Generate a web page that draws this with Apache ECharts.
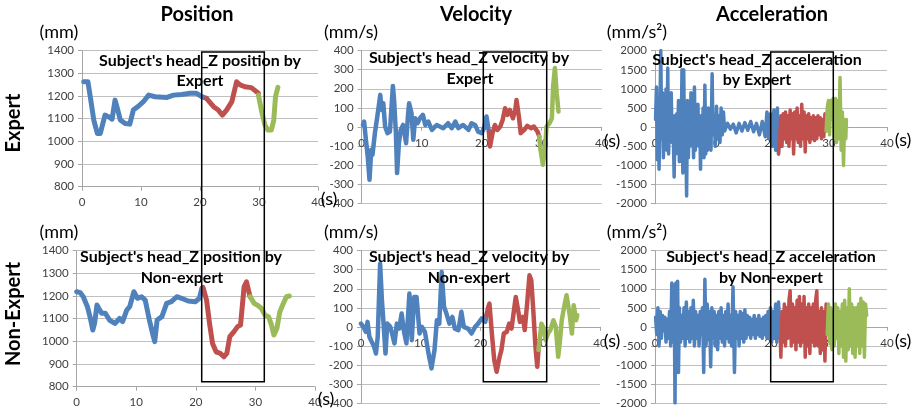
<!DOCTYPE html>
<html>
<head>
<meta charset="utf-8">
<script src="https://cdn.jsdelivr.net/npm/echarts@6/dist/echarts.min.js"></script>
<style>
  html, body { margin: 0; padding: 0; background: #fff; }
  #chart { width: 918px; height: 409px; }
</style>
</head>
<body>
<div id="chart"></div>
<script>
// tick settings
var xTicks = { min: 0, max: 40, interval: 10 };
var posTicks = { min: 800, max: 1400, interval: 100 };
var velTicks = { min: -400, max: 400, interval: 100 };
var accTicks = { min: -2000, max: 2000, interval: 500 };

// position by expert  [t(s), mm]
var posExpBlue = [[0.3,1263],[1.0,1263],[1.4,1197],[2.0,1094],[2.6,1035],[3.1,1035],[3.9,1116],[4.5,1109],[5.1,1098],[5.6,1182],[6.0,1145],[6.5,1094],[7.3,1079],[8.1,1076],[8.7,1138],[9.6,1156],[10.4,1175],[11.3,1204],[12.4,1197],[14.4,1194],[15.5,1204],[16.9,1207],[18.3,1212],[19.4,1212],[20.3,1197],[21.1,1190]];
var posExpRed = [[21.1,1190],[22.3,1153],[23.1,1138],[23.8,1116],[24.5,1138],[25.4,1175],[26.2,1263],[26.8,1249],[27.6,1241],[28.7,1237],[29.9,1212]];
var posExpGreen = [[29.9,1204],[30.4,1138],[31.0,1072],[31.5,1050],[32.1,1050],[32.5,1094],[32.8,1197],[33.2,1238]];

// position by non-expert
var posNonBlue = [[0,1219],[0.6,1215],[1.1,1197],[1.8,1153],[2.3,1101],[2.7,1050],[3.0,1079],[3.4,1160],[3.7,1146],[4.2,1124],[4.8,1124],[5.5,1094],[6.4,1079],[7.2,1101],[7.7,1087],[8.4,1138],[8.9,1153],[9.6,1219],[10.2,1190],[10.9,1197],[11.5,1182],[12.2,1094],[12.8,1028],[13.1,999],[13.5,1094],[14.3,1109],[15.1,1168],[15.9,1175],[16.8,1197],[17.6,1190],[18.7,1178],[19.9,1175],[20.6,1190],[21.0,1234]];
var posNonRed = [[21.2,1238],[21.8,1182],[22.3,1079],[22.8,991],[23.4,954],[24.1,947],[24.7,932],[25.2,947],[25.7,1021],[26.4,1043],[27.0,1065],[27.5,1072],[28.1,1241],[28.5,1263],[29.1,1197]];
var posNonGreen = [[29.1,1197],[29.8,1168],[30.3,1160],[31.0,1146],[31.6,1116],[32.2,1109],[32.7,1072],[33.1,1028],[33.6,1057],[34.1,1131],[34.7,1168],[35.2,1197],[35.7,1200]];

// velocity by expert  [t(s), mm/s]
var velExpBlue = [[0.2,10],[0.4,28],[0.7,-68],[1.0,-155],[1.3,-278],[1.6,-120],[1.8,-147],[2.2,-33],[2.6,54],[3.1,168],[3.3,89],[3.6,124],[3.9,2],[4.3,-33],[4.7,-25],[5.2,215],[5.4,141],[5.7,-33],[5.9,-243],[6.2,-86],[6.5,-16],[6.9,10],[7.4,-86],[7.7,54],[7.9,124],[8.3,72],[8.6,-68],[8.9,45],[9.3,19],[9.7,45],[10.2,63],[10.6,10],[11.1,28],[11.7,-16],[12.5,10],[13.6,-7],[14.4,19],[15.0,-7],[15.6,28],[16.1,-7],[16.9,10],[17.8,-16],[18.3,19],[18.9,10],[19.4,-25],[20.0,-33],[20.4,-7],[20.8,54],[21.2,-25]];
var velExpRed = [[21.2,-25],[21.4,-103],[21.8,-33],[22.2,10],[22.6,-16],[23.1,2],[23.5,37],[23.9,98],[24.3,63],[24.7,89],[25.2,45],[25.6,89],[25.8,141],[26.2,54],[26.5,-33],[27.1,-16],[27.6,5],[28.2,-7],[28.7,2],[29.3,-25],[29.6,-51]];
var velExpGreen = [[29.6,-51],[29.8,-120],[30.2,-199],[30.6,-103],[30.8,2],[31.3,19],[31.7,45],[31.9,212],[32.2,309],[32.5,177],[32.8,80]];

// velocity by non-expert
var velNonBlue = [[0,17],[0.4,0],[0.8,-26],[1.1,26],[1.4,-52],[1.8,-79],[2.2,-105],[2.5,-140],[2.8,-52],[3.2,332],[3.5,140],[3.7,52],[4.1,-140],[4.4,17],[4.9,0],[5.2,-35],[5.6,-87],[6.0,17],[6.4,-9],[6.8,70],[7.2,-26],[7.6,-87],[8.1,175],[8.5,-70],[8.9,157],[9.3,157],[9.8,-35],[10.2,0],[10.7,-26],[11.3,-140],[11.8,-218],[12.3,-122],[12.7,35],[13.1,17],[13.5,288],[13.9,105],[14.3,70],[14.8,17],[15.3,52],[15.7,-9],[16.3,-17],[16.8,79],[17.2,0],[17.9,-9],[18.5,-35],[19.1,0],[19.6,17],[20.2,44],[20.8,26],[21.0,61]];
var velNonRed = [[21.0,61],[21.3,105],[21.5,122],[21.9,-35],[22.3,-175],[22.7,-236],[23.2,-157],[23.5,-122],[23.9,-35],[24.4,-26],[24.8,17],[25.2,-9],[25.6,87],[25.9,157],[26.3,87],[26.6,26],[27.1,52],[27.4,-17],[27.8,122],[28.2,271],[28.5,245],[28.8,105],[29.2,-105],[29.5,-210],[29.7,-122]];
var velNonGreen = [[29.7,-122],[29.9,-70],[30.2,17],[30.6,-9],[30.9,-70],[31.3,-35],[31.7,-17],[32.2,35],[32.6,0],[33.0,-157],[33.3,-70],[33.6,35],[34.0,105],[34.4,166],[34.9,70],[35.3,-35],[35.6,113],[36.0,35],[36.2,61]];

// acceleration by expert  [t(s), mm/s^2]
var accExpBlue = [[0.1,200],[0.25,1050],[0.4,-850],[0.55,400],[0.7,-1100],[0.85,500],[1.0,2000],[1.15,-300],[1.3,900],[1.45,-800],[1.6,300],[1.75,-500],[1.9,1000],[2.05,-600],[2.2,1550],[2.35,-700],[2.5,600],[2.65,-300],[2.8,900],[2.95,-400],[3.1,300],[3.3,-1300],[3.45,300],[3.6,-700],[3.75,350],[3.9,-450],[4.05,700],[4.2,-900],[4.35,300],[4.5,-600],[4.65,1500],[4.8,-1200],[4.95,1500],[5.1,-400],[5.25,600],[5.45,-1800],[5.6,700],[5.75,-800],[5.9,300],[6.05,-500],[6.2,900],[6.35,-400],[6.5,400],[6.65,-800],[6.8,1050],[6.95,-600],[7.1,300],[7.25,-300],[7.4,600],[7.55,-500],[7.7,300],[7.85,-1100],[8.0,300],[8.15,-300],[8.3,500],[8.45,-800],[8.6,1100],[8.75,-700],[8.9,400],[9.05,-600],[9.2,500],[9.35,-400],[9.5,300],[9.65,-600],[9.85,1400],[10.0,-200],[10.2,300],[10.4,-500],[10.6,550],[10.8,-300],[11.0,300],[11.2,-400],[11.4,500],[11.6,-200],[11.8,400],[12.0,-100],[12.5,100],[13.0,-50],[13.5,80],[14.0,-150],[14.5,100],[15.0,-100],[15.5,120],[16.0,-80],[16.5,150],[17.0,-120],[17.5,100],[18.0,-200],[18.5,150],[19.0,-250],[19.3,400],[19.6,-300],[19.9,350],[20.2,-500],[20.5,450],[20.8,-600],[21.1,500],[21.3,-700]];
var accExpRed = [[21.3,-700],[21.5,-300],[21.7,300],[21.9,-500],[22.1,350],[22.3,-300],[22.5,400],[22.7,-400],[22.9,300],[23.1,-500],[23.3,450],[23.5,-300],[23.7,350],[23.9,-700],[24.1,400],[24.3,-300],[24.5,500],[24.7,-400],[24.9,300],[25.1,-500],[25.3,600],[25.5,-300],[25.7,400],[25.9,-650],[26.1,300],[26.3,-300],[26.5,350],[26.7,-400],[26.9,250],[27.1,-300],[27.3,300],[27.5,-350],[27.7,250],[27.9,-300],[28.1,300],[28.3,-200],[28.5,250],[28.7,-300],[28.9,200],[29.1,-250],[29.3,350],[29.5,-100]];
var accExpGreen = [[29.5,-100],[29.7,500],[29.9,700],[30.1,-200],[30.3,700],[30.5,200],[30.7,750],[30.9,-300],[31.1,750],[31.3,-400],[31.5,700],[31.7,-300],[31.9,1300],[32.1,-600],[32.3,400],[32.5,-1000],[32.7,200],[32.9,-300],[33.0,200]];

// acceleration by non-expert
var accNonBlue = [[0.1,250],[0.3,-200],[0.5,500],[0.7,-500],[0.9,400],[1.1,-300],[1.3,300],[1.5,-100],[1.7,250],[1.9,-400],[2.1,200],[2.3,-300],[2.5,400],[2.7,-500],[2.9,1150],[3.1,-400],[3.3,1100],[3.45,-2000],[3.6,1150],[3.75,-1200],[3.9,1200],[4.05,-1200],[4.2,500],[4.4,-400],[4.6,300],[4.8,-300],[5.0,500],[5.2,-500],[5.4,650],[5.6,-300],[5.8,400],[6.0,-400],[6.2,500],[6.4,-300],[6.6,700],[6.8,-500],[7.0,400],[7.2,-300],[7.4,300],[7.6,-500],[7.8,400],[8.0,-200],[8.2,500],[8.4,-1200],[8.6,1250],[8.8,-500],[9.0,600],[9.2,-300],[9.4,400],[9.6,-1050],[9.8,500],[10.0,-300],[10.2,400],[10.4,-500],[10.6,300],[10.8,-600],[11.0,400],[11.2,-300],[11.4,500],[11.6,-400],[11.8,300],[12.0,-500],[12.2,400],[12.4,-300],[12.6,600],[12.8,-400],[13.0,300],[13.2,-500],[13.45,1050],[13.7,-1200],[13.9,400],[14.1,-300],[14.3,300],[14.5,-500],[14.7,400],[14.9,-300],[15.1,350],[15.3,-400],[15.5,450],[15.7,-300],[15.9,300],[16.1,-200],[16.3,250],[16.5,-300],[16.7,200],[16.9,-200],[17.1,300],[17.3,-300],[17.5,200],[17.7,-200],[17.9,300],[18.1,-250],[18.3,200],[18.5,-300],[18.7,250],[18.9,-200],[19.1,300],[19.3,-300],[19.5,400],[19.7,-300],[19.9,500],[20.1,-400],[20.3,400],[20.5,-300],[20.8,600],[21.0,-400],[21.3,650],[21.6,-300]];
var accNonRed = [[21.6,-300],[21.7,-800],[21.9,400],[22.1,-400],[22.3,600],[22.5,-500],[22.7,500],[22.9,-300],[23.1,700],[23.3,950],[23.5,-500],[23.7,600],[23.9,-400],[24.1,500],[24.3,-600],[24.5,700],[24.7,-400],[24.9,800],[25.1,-500],[25.3,600],[25.5,-400],[25.7,800],[25.9,-800],[26.1,500],[26.3,-500],[26.5,600],[26.7,-700],[26.9,500],[27.1,-400],[27.3,600],[27.5,-500],[27.7,700],[27.9,950],[28.1,-500],[28.3,400],[28.5,-700],[28.7,500],[28.9,-600],[29.1,400],[29.3,-900],[29.5,600],[29.7,-200]];
var accNonGreen = [[29.7,-200],[29.9,600],[30.1,-400],[30.3,500],[30.5,-600],[30.7,400],[30.9,-500],[31.1,600],[31.3,-300],[31.5,500],[31.7,-700],[31.9,400],[32.1,-500],[32.3,600],[32.5,-800],[32.7,700],[32.9,-900],[33.1,500],[33.3,-600],[33.5,1000],[33.7,-500],[33.9,600],[34.1,-700],[34.3,500],[34.5,-800],[34.7,500],[34.9,-500],[35.1,600],[35.3,-700],[35.5,750],[35.7,-500],[35.9,650],[36.1,-800],[36.3,600],[36.5,300]];

var colors = ['#4f81bd', '#c0504d', '#9bbb59'];
var font = 'Lato';

var chart = echarts.init(document.getElementById('chart'));

// one panel per grid: [left, top, width, height, yTicks, blue, red, green, lineWidth, x axis offset]
var panels = [
    [82, 50.7, 236, 136, posTicks, posExpBlue, posExpRed, posExpGreen, 5, 0],
    [361.7, 50.7, 240, 152.3, velTicks, velExpBlue, velExpRed, velExpGreen, 4.5, -76.15],
    [655, 50.7, 232, 153, accTicks, accExpBlue, accExpRed, accExpGreen, 3.5, -76.5],
    [76.7, 250.7, 238.3, 136, posTicks, posNonBlue, posNonRed, posNonGreen, 5, 0],
    [361, 250.7, 239, 152.3, velTicks, velNonBlue, velNonRed, velNonGreen, 4.5, -76.15],
    [655, 250.7, 232, 152.3, accTicks, accNonBlue, accNonRed, accNonGreen, 3.5, -76.15]
];

var grids = [], xAxes = [], yAxes = [], series = [];
panels.forEach(function (p, i) {
    grids.push({ left: p[0], top: p[1], width: p[2], height: p[3] });
    // x axis crosses the value axis at zero, as in the original
    xAxes.push({
        type: 'value', gridIndex: i, position: 'bottom', offset: p[9],
        min: xTicks.min, max: xTicks.max, interval: xTicks.interval,
        axisLine: { onZero: false, lineStyle: { color: '#a6a6a6', width: 1 } },
        axisTick: { show: true, length: 4, lineStyle: { color: '#a6a6a6' } },
        axisLabel: { color: '#404040', fontSize: 11.5, fontFamily: font, margin: 10 },
        splitLine: { show: false }
    });
    yAxes.push({
        type: 'value', gridIndex: i,
        min: p[4].min, max: p[4].max, interval: p[4].interval,
        axisLine: { show: true, lineStyle: { color: '#a6a6a6', width: 1 } },
        axisTick: { show: true, length: 4, lineStyle: { color: '#a6a6a6' } },
        axisLabel: {
            color: '#404040', fontSize: 11.5, fontFamily: font, margin: 8,
            formatter: function (v) { return String(v); }
        },
        splitLine: { show: true, lineStyle: { color: '#c0c0c0', width: 1 } }
    });
    [p[5], p[6], p[7]].forEach(function (d, k) {
        series.push({
            type: 'line', xAxisIndex: i, yAxisIndex: i,
            data: d, showSymbol: false, smooth: false, silent: true,
            lineStyle: { color: colors[k], width: p[8], join: 'round', cap: 'round' },
            z: 2 + k
        });
    });
});

function label(text, x, y, size, bold, rot) {
    return {
        type: 'text', x: x, y: y, rotation: rot || 0, z: 100,
        style: {
            text: text, fill: '#000', fontSize: size, fontFamily: font,
            fontWeight: bold ? 'bold' : 'normal', align: 'center', verticalAlign: 'middle'
        }
    };
}
function box(x, y, w, h) {
    return {
        type: 'rect', z: 101, shape: { x: x, y: y, width: w, height: h },
        style: { fill: 'none', stroke: '#000', lineWidth: 1.5 }
    };
}

var graphics = [
    label('Position', 197, 15, 20, true),
    label('Velocity', 476, 15, 20, true),
    label('Acceleration', 772, 15, 20, true),
    label('Expert', 14, 123, 20, true, Math.PI / 2),
    label('Non-Expert', 14, 314, 20, true, Math.PI / 2),
    label('(mm)', 59, 32, 18),
    label('(mm)', 59, 232, 18),
    label('(mm/s)', 351, 32, 18),
    label('(mm/s)', 351, 232, 18),
    label('(mm/s²)', 637, 32, 18),
    label('(mm/s²)', 637, 232, 18),
    label("Subject's head_Z position by", 200, 61, 16, true),
    label('Expert', 200, 81, 16, true),
    label("Subject's head_Z velocity by", 469, 58, 16, true),
    label('Expert', 470, 79, 16, true),
    label("Subject's head_Z acceleration", 757, 60, 16, true),
    label('by Expert', 757, 80, 16, true),
    label("Subject's head_Z position by", 181, 257, 16, true),
    label('Non-expert', 182, 278, 16, true),
    label("Subject's head_Z velocity by", 469, 257, 16, true),
    label('Non-expert', 469, 278, 16, true),
    label("Subject's head_Z acceleration", 771, 257, 16, true),
    label('by Non-expert', 771, 278, 16, true),
    label('(s)', 329, 199, 18),
    label('(s)', 612, 141, 18),
    label('(s)', 903, 140, 18),
    label('(s)', 326, 399, 18),
    label('(s)', 612, 341, 18),
    label('(s)', 903, 341, 18),
    box(201.7, 52, 62.6, 329.7),
    box(483.3, 52, 63.4, 329.7),
    box(770.7, 52, 62.6, 329.7)
];

chart.setOption({
    animation: false,
    grid: grids,
    xAxis: xAxes,
    yAxis: yAxes,
    series: series,
    graphic: graphics
});
</script>
</body>
</html>
